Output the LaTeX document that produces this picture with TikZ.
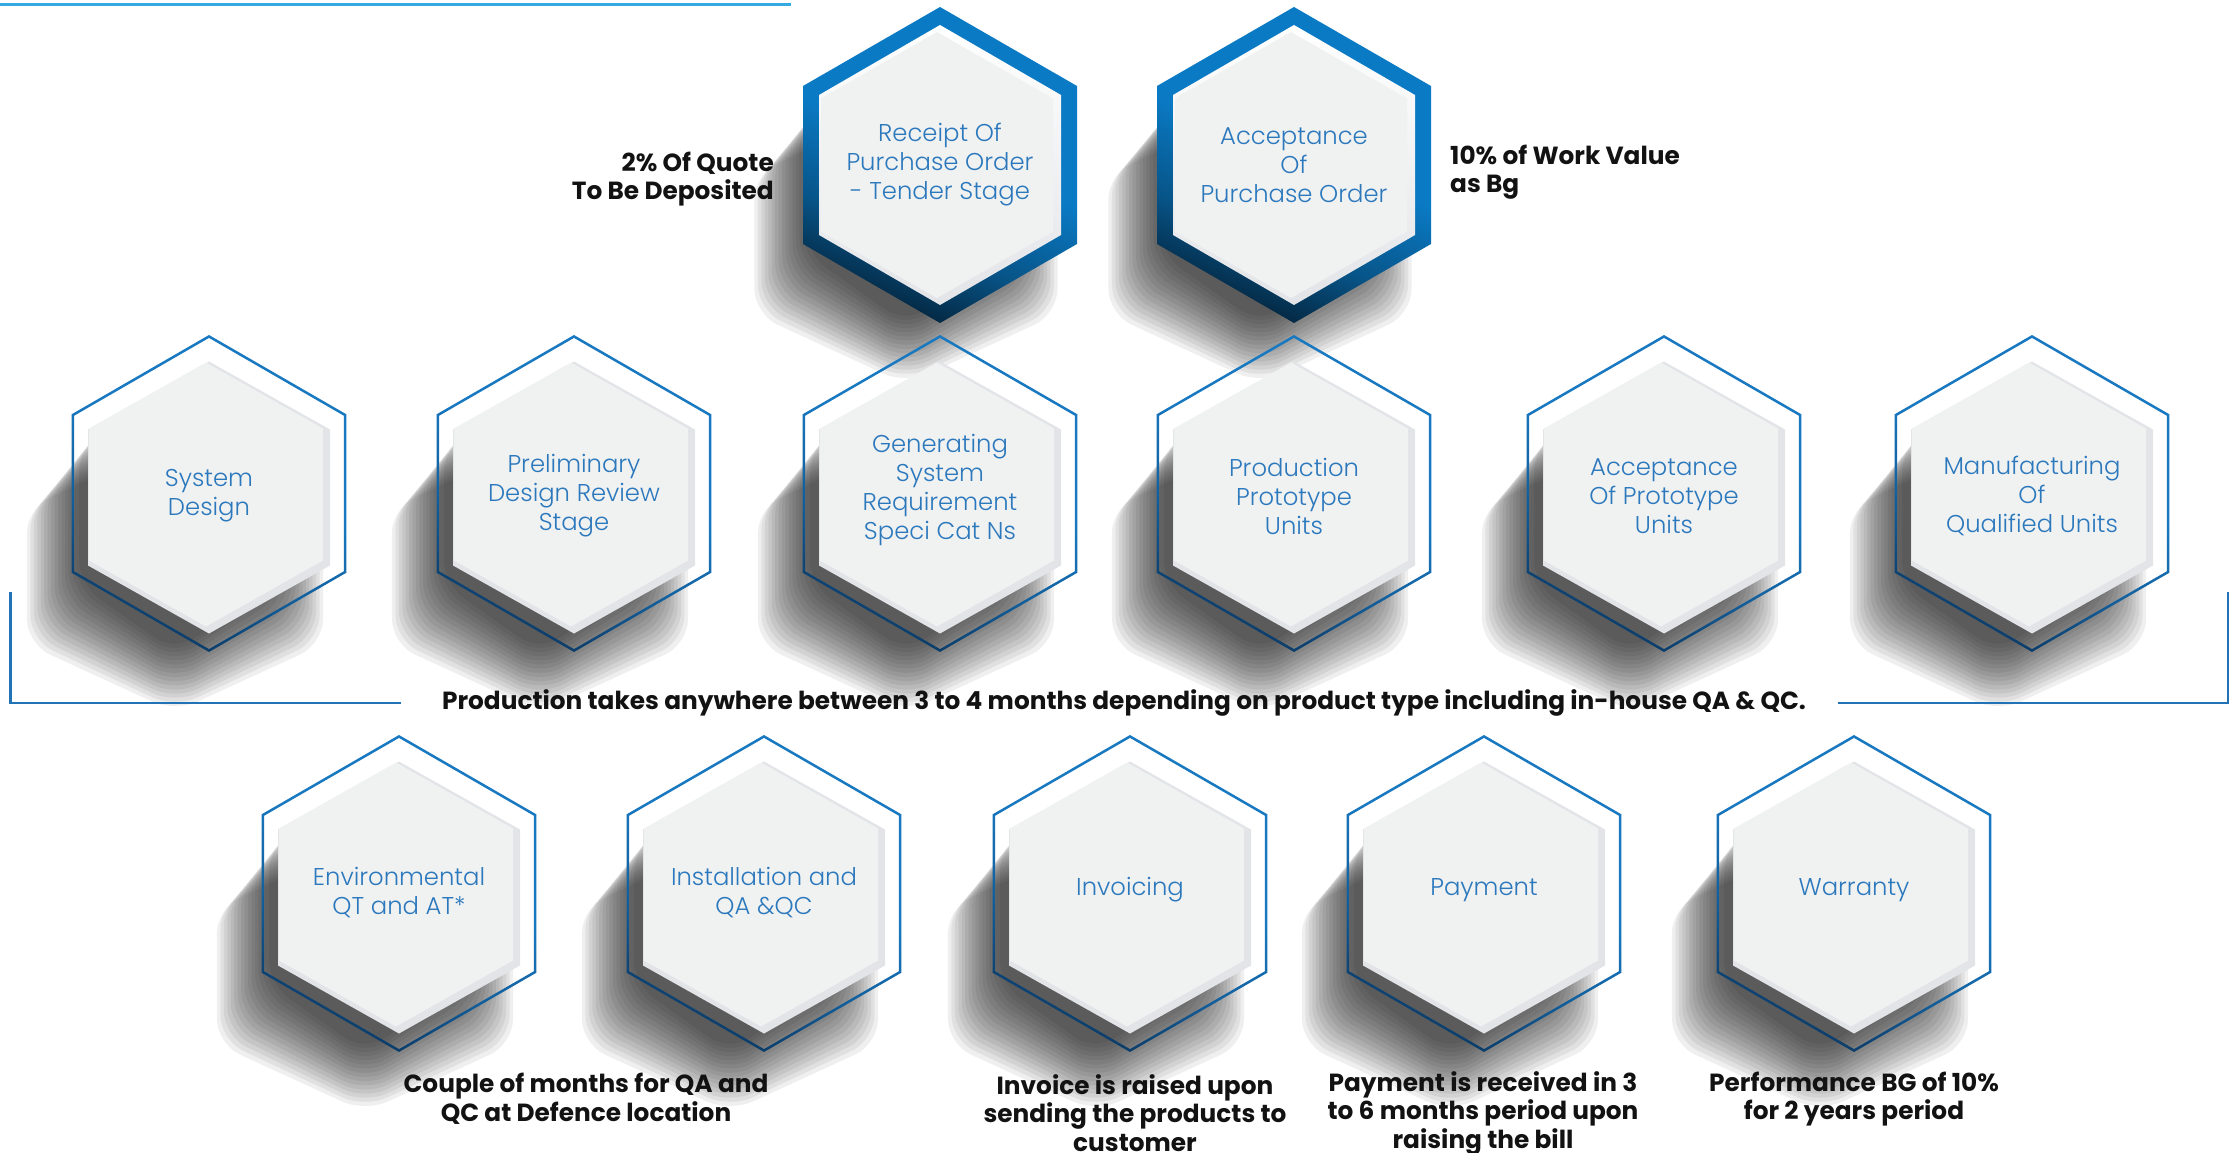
\documentclass[tikz,border=0pt]{standalone}
\usepackage{fontspec}
\setmainfont{Poppins}
\newfontfamily\lightfont{Poppins Light}
\definecolor{topline}{HTML}{35A9E1}
\definecolor{bracket}{HTML}{2272B6}
\definecolor{outA}{HTML}{1878C0}
\definecolor{outB}{HTML}{0B3A66}
\definecolor{ringA}{HTML}{0A7AC4}
\definecolor{ringB}{HTML}{04263F}
\definecolor{face}{HTML}{F0F1F1}
\definecolor{rim}{HTML}{E3E4E8}
\definecolor{lblblue}{HTML}{2B78BD}
\pgfdeclareverticalshading{ringshade}{100bp}{color(0bp)=(ringB); color(25bp)=(ringB); color(37bp)=(ringA!55!ringB); color(52bp)=(ringA); color(100bp)=(ringA)}
\pgfdeclareverticalshading{outshade}{100bp}{color(0bp)=(outB); color(25bp)=(outB); color(40bp)=(outA!60!outB); color(55bp)=(outA); color(100bp)=(outA)}
\newcommand\hexp[4]{({#1},{#2-#4}) -- ({#1+#3},{#2-0.5*#4}) -- ({#1+#3},{#2+0.5*#4}) -- ({#1},{#2+#4}) -- ({#1-#3},{#2+0.5*#4}) -- ({#1-#3},{#2-0.5*#4}) -- cycle}
\newcommand\hexshadow[3]{%
  \foreach \k in {0,...,15}{\fill[black,opacity=0.063,rounded corners=25pt] \hexp{#1-34}{#2+44}{0.866*(#3-25+4*\k)}{#3-25+4*\k};}}
\newcommand\midhex[5]{%
  \shade[even odd rule, shading=outshade, shading angle=-25] \hexp{#1}{#2}{137.3}{158.5} \hexp{#1}{#2}{134.8}{155.6};
  \fill[rim] \hexp{#1}{#2+4}{121}{136};
  \fill[face] \hexp{#1-3}{#2+1}{117}{132};
  \node[lbl] (#3) at (#1,#5) {#4};}
\newcommand\tophex[5]{%
  \shade[shading=ringshade, shading angle=-22] \hexp{#1}{#2}{137}{158};
  \shade[top color=white, bottom color=rim] \hexp{#1}{#2}{121}{140};
  \fill[face] \hexp{#1-3}{#2}{116}{133};
  \node[lbl] (#3) at (#1,#5) {#4};}
\tikzset{
  lbl/.style={text=lblblue, align=center, font=\lightfont\fontsize{24.3}{29}\selectfont, inner sep=0pt},
  desc/.style={text=black!93, align=center, font=\bfseries\fontsize{24.8}{28.5}\selectfont, inner sep=0pt},
  brk/.style={draw=bracket, line width=2.6pt},
}
\begin{document}
\begin{tikzpicture}[x=1pt,y=-1pt]
\useasboundingbox (0,0) rectangle (2236,1153);
% shadows
\hexshadow{940}{165}{140}
\hexshadow{1294}{165}{140}
\foreach \cx in {209,574,940,1294,1664,2032}{\hexshadow{\cx}{497}{136}}
\foreach \cx in {399,764,1130,1484,1854}{\hexshadow{\cx}{897}{136}}
% top line
\coordinate (tl1) at (0,5);
\coordinate (tl2) at (791,5);
\draw[draw=topline, line width=3pt] (tl1) -- (tl2);
% top row
\tophex{940}{165}{receipt}{Receipt Of\\Purchase Order\\- Tender Stage}{165}
\tophex{1294}{165}{accpo}{Acceptance\\Of\\Purchase Order}{165}
% middle row
\midhex{209}{493.5}{sysdes}{System\\Design}{496}
\midhex{574}{493.5}{pdr}{Preliminary\\Design Review\\Stage}{496}
\midhex{940}{493.5}{gsrs}{Generating\\System\\Requirement\\Speci Cat Ns}{490}
\midhex{1294}{493.5}{ppu}{Production\\Prototype\\Units}{496}
\midhex{1664}{493.5}{apu}{Acceptance\\Of Prototype\\Units}{496}
\midhex{2032}{493.5}{mqu}{Manufacturing\\Of\\Qualified Units}{496}
% bottom row
\midhex{399}{893.5}{env}{Environmental\\QT and AT*}{893}
\midhex{764}{893.5}{inst}{Installation and\\QA \&QC}{893}
\midhex{1130}{893.5}{inv}{Invoicing}{890}
\midhex{1484}{893.5}{pay}{Payment}{890}
\midhex{1854}{893.5}{war}{Warranty}{890}
% side notes
\node[desc, align=right, anchor=east] (quote) at (774,179) {2\% Of Quote\\To Be Deposited};
\node[desc, align=left, anchor=west] (bg) at (1450,172) {10\% of Work Value\\as Bg};
% production band
\node[desc] (prod) at (1124,703) {Production takes anywhere between 3 to 4 months depending on product type including in-house QA \& QC.};
\coordinate (bl1) at (10.5,592);
\coordinate (bl2) at (401,703);
\coordinate (br1) at (2228,592);
\coordinate (br2) at (1838,703);
\draw[brk] (bl1) |- (bl2);
\draw[brk] (br1) |- (br2);
% bottom notes
\node[desc] (d1) at (586,1099) {Couple of months for QA and\\QC at Defence location};
\node[desc] (d2) at (1135,1113) {Invoice is raised upon\\sending the products to\\customer};
\node[desc] (d3) at (1483,1113) {Payment is received in 3\\to 6 months period upon\\raising the bill};
\node[desc] (d4) at (1854,1099) {Performance BG of 10\%\\for 2 years period};
\end{tikzpicture}
\end{document}
